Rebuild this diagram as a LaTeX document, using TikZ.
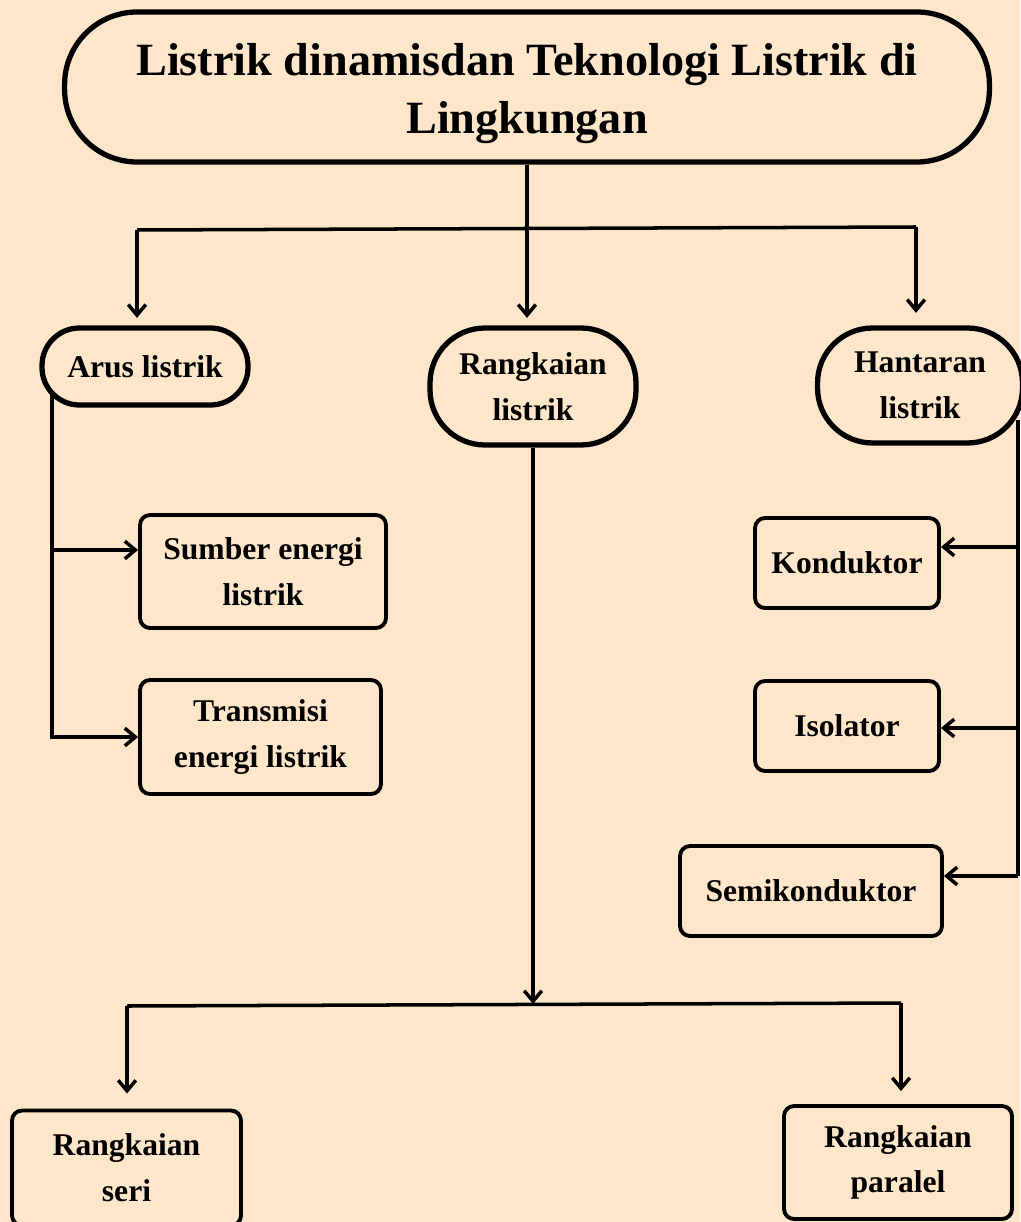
\documentclass[tikz,border=0pt]{standalone}
\usepackage{fontspec}
\setmainfont{Liberation Serif}
\usetikzlibrary{arrows.meta}

\definecolor{peach}{RGB}{253,230,201}
\newcommand\boxfont{\fontsize{18}{26}\selectfont\bfseries}

\tikzset{
  pill/.style={draw, line width=3pt, rounded corners=#1, align=center,
    inner sep=0pt, font=\boxfont},
  card/.style={draw, line width=2.2pt, rounded corners=0.2cm, align=center,
    inner sep=0pt, font=\boxfont},
  link/.style={line width=2pt},
  arr/.style={link, -{Straight Barb[length=6pt,width=10pt]}},
}

\begin{document}
\begin{tikzpicture}[x=0.02cm, y=-0.02cm]
        \useasboundingbox (0,0) rectangle (1020,1222);
        \fill[peach] (0,0) rectangle (1020,1222);

        \node (judul) [pill=1.45cm, minimum width=18.5cm, minimum height=3cm,
          font=\fontsize{26.3}{33}\selectfont\bfseries] at (527,87)
          {\rule{0pt}{0.9cm}Listrik dinamisdan Teknologi Listrik di\\Lingkungan};

        \node (arus)   [pill=0.75cm, minimum width=4.12cm, minimum height=1.54cm] at (145,366.5) {Arus listrik};
        \node (rangk)  [pill=1.1cm, minimum width=4.12cm, minimum height=2.34cm] at (533,386.5) {Rangkaian\\listrik};
        \node (hantar) [pill=1.1cm, minimum width=4.1cm, minimum height=2.3cm] at (920,385.5) {Hantaran\\listrik};

        \node (sumber) [card, minimum width=4.92cm, minimum height=2.26cm] at (263,571.5) {Sumber energi\\listrik};
        \node (transm) [card, minimum width=4.82cm, minimum height=2.28cm] at (260.5,737) {Transmisi\\energi listrik};

        \node (kond)   [card, minimum width=3.68cm, minimum height=1.8cm] at (847,563) {Konduktor};
        \node (isol)   [card, minimum width=3.68cm, minimum height=1.8cm] at (847,726) {Isolator};
        \node (semi)   [card, minimum width=5.24cm, minimum height=1.8cm] at (811,891) {Semikonduktor};

        \node (seri)    [card, minimum width=4.58cm, minimum height=2.3cm] at (126.5,1168) {Rangkaian\\seri};
        \node (paralel) [card, minimum width=4.56cm, minimum height=2.26cm] at (898,1162.5) {Rangkaian\\paralel};

        % top branch
        \coordinate (jl) at (137,230);
        \coordinate (jr) at (916,227);
        \draw [arr, shorten >=0.15cm] (judul.south) -- (judul.south |- rangk.north);
        \draw [link] (jl) -- (jr);
        \draw [arr, shorten >=0.15cm] (jl) -- (jl |- arus.north);
        \draw [arr, shorten >=0.25cm] (jr) -- (jr |- hantar.north);

        % arus listrik
        \coordinate (kl) at (52,395);
        \coordinate (s1) at (52,550);
        \draw [link] (kl) -- (s1);
        \draw [arr] (s1) -- (s1 -| sumber.west);
        \draw [arr] (s1) |- (transm.west);

        % hantaran listrik
        \coordinate (kr) at (1018,420);
        \coordinate (r1) at (1018,547);
        \coordinate (r2) at (1018,728);
        \coordinate (r3) at (1018,876);
        \draw [link] (kr) -- (r3);
        \draw [arr] (r1) -- (r1 -| kond.east);
        \draw [arr] (r2) -- (r2 -| isol.east);
        \draw [arr] (r3) -- (r3 -| semi.east);

        % rangkaian listrik
        \coordinate (jb) at (533,1004);
        \coordinate (bl) at (127,1006);
        \coordinate (br) at (901,1003);
        \draw [arr] (rangk.south) -- (jb);
        \draw [link] (bl) -- (br);
        \draw [arr, shorten >=0.3cm] (bl) -- (bl |- seri.north);
        \draw [arr, shorten >=0.26cm] (br) -- (br |- paralel.north);
      \end{tikzpicture}
\end{document}
